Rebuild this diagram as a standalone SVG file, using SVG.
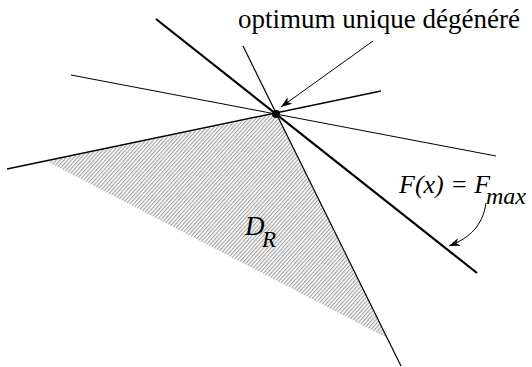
<svg xmlns="http://www.w3.org/2000/svg" width="532" height="367" viewBox="0 0 532 367">
<defs>
<pattern id="hatch" patternUnits="userSpaceOnUse" width="2.8" height="10" patternTransform="rotate(42)">
<line x1="0.7" y1="0" x2="0.7" y2="10" stroke="#444" stroke-width="0.6"/>
</pattern>
<marker id="arr" markerUnits="userSpaceOnUse" markerWidth="14" markerHeight="10" viewBox="-12 -5 13 10" refX="0" refY="0" orient="auto">
<path d="M0,0 L-11,-4 L-8,0 L-11,4 Z" fill="#000"/>
</marker>
<style>
.thin{stroke:#000;stroke-width:1;fill:none}
.thick{stroke:#000;stroke-width:2.2;fill:none}
.lbl{fill:#000}
.it{font-style:italic}
</style>
</defs>
<g id="region">
<polygon points="276,114 47,161.5 387,338" fill="url(#hatch)"/>
<text class="lbl it" font-family="Liberation Serif, Times New Roman, serif" x="245" y="235" font-size="27">D</text>
<text class="lbl it" font-family="Liberation Serif, Times New Roman, serif" x="262" y="247" font-size="23">R</text>
</g>
<g id="connectors">
<line class="thin" x1="71" y1="75" x2="496" y2="156"/>
<line class="thin" x1="7" y1="169" x2="381" y2="91" style="stroke-width:1.4"/>
<line class="thin" x1="243" y1="46" x2="401" y2="366" style="stroke-width:1.2"/>
<line class="thick" x1="156" y1="19" x2="477" y2="273"/>
<line class="thin" x1="373" y1="41" x2="281" y2="107" marker-end="url(#arr)"/>
<path class="thin" d="M486,203 C483,225 470,238 449,246" marker-end="url(#arr)"/>
</g>
<g id="optimum">
<circle cx="276" cy="114" r="4" fill="#000"/>
<text class="lbl" font-family="Liberation Serif, Times New Roman, serif" x="238" y="28" font-size="27">optimum unique dégénéré</text>
</g>
<g id="fmax">
<text class="lbl it" font-family="Liberation Serif, Times New Roman, serif" x="399" y="193" font-size="26">F(x) = F</text>
<text class="lbl it" font-family="Liberation Serif, Times New Roman, serif" x="486" y="204" font-size="24">max</text>
</g>
</svg>
